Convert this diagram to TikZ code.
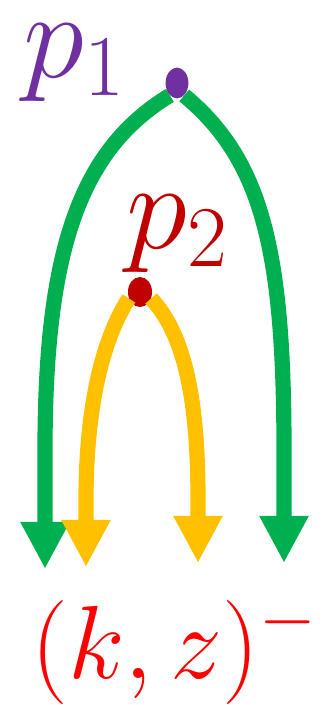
\RequirePackage{fix-cm}
\documentclass[tikz,border=0pt]{standalone}
\usetikzlibrary{arrows.meta,backgrounds,shapes.geometric}
\definecolor{flowgreen}{HTML}{00B050}
\definecolor{flowyellow}{HTML}{FFC000}
\definecolor{vertexpurple}{HTML}{7030A0}
\definecolor{vertexred}{HTML}{C00000}
\definecolor{momentumred}{HTML}{FF0000}
\tikzset{
    flow diagram/.style = {x=0.025cm, y=-0.025cm,
                           >={Triangle[length=1.18cm, width=1.15cm]}},
    flowline/.style     = {line width=0.38cm, ->},
    outer flow/.style   = {flowline, draw=flowgreen},
    inner flow/.style   = {flowline, draw=flowyellow},
    vertex/.style       = {ellipse, inner sep=0pt,
                           minimum width=0.57cm, minimum height=0.77cm},
    vlabel/.style       = {inner sep=0pt,
                           font=\fontsize{88}{88}\selectfont},
    klabel/.style       = {inner sep=0pt, text=momentumred,
                           font=\fontsize{74}{74}\selectfont}
}

\begin{document}
\begin{tikzpicture}[flow diagram]
\useasboundingbox (0,0) rectangle (328,705);

% ================= Vertices =================
\node[vertex, fill=vertexpurple] (p1) at (177,83) {};
\node[vertex, fill=vertexred,
      minimum width=0.6cm, minimum height=0.75cm] (p2) at (140,292) {};

% ================= Labels =================
\node[vlabel, text=vertexpurple, anchor=base west] (p1 label) at (23,77) {$p_1$};
\node[vlabel, text=vertexred, anchor=base west] (p2 label) at (126,248) {$p_2$};
\node[klabel, anchor=base west] (kz) at (31,678) {$(k,z)^-$};

% ================= Arrow ends =================
\coordinate (g left)  at (45,569);
\coordinate (g right) at (284,563);
\coordinate (y left)  at (86,567);
\coordinate (y right) at (198,563);

% ================= Outer (green) lines =================
\begin{scope}[on background layer]
\draw[outer flow] (p1.-120) .. controls (80,150) and (45,250) .. (45,450) -- (g left);
\draw[outer flow] (p1.-60) .. controls (262,160) and (284,250) .. (284,450) -- (g right);
\end{scope}

% ================= Inner (yellow) lines =================
\draw[inner flow] (p2.-150) .. controls (105,335) and (86,400) .. (86,500) -- (y left);
\draw[inner flow] (p2.-30) .. controls (185,335) and (198,400) .. (198,500) -- (y right);

\end{tikzpicture}
\end{document}
